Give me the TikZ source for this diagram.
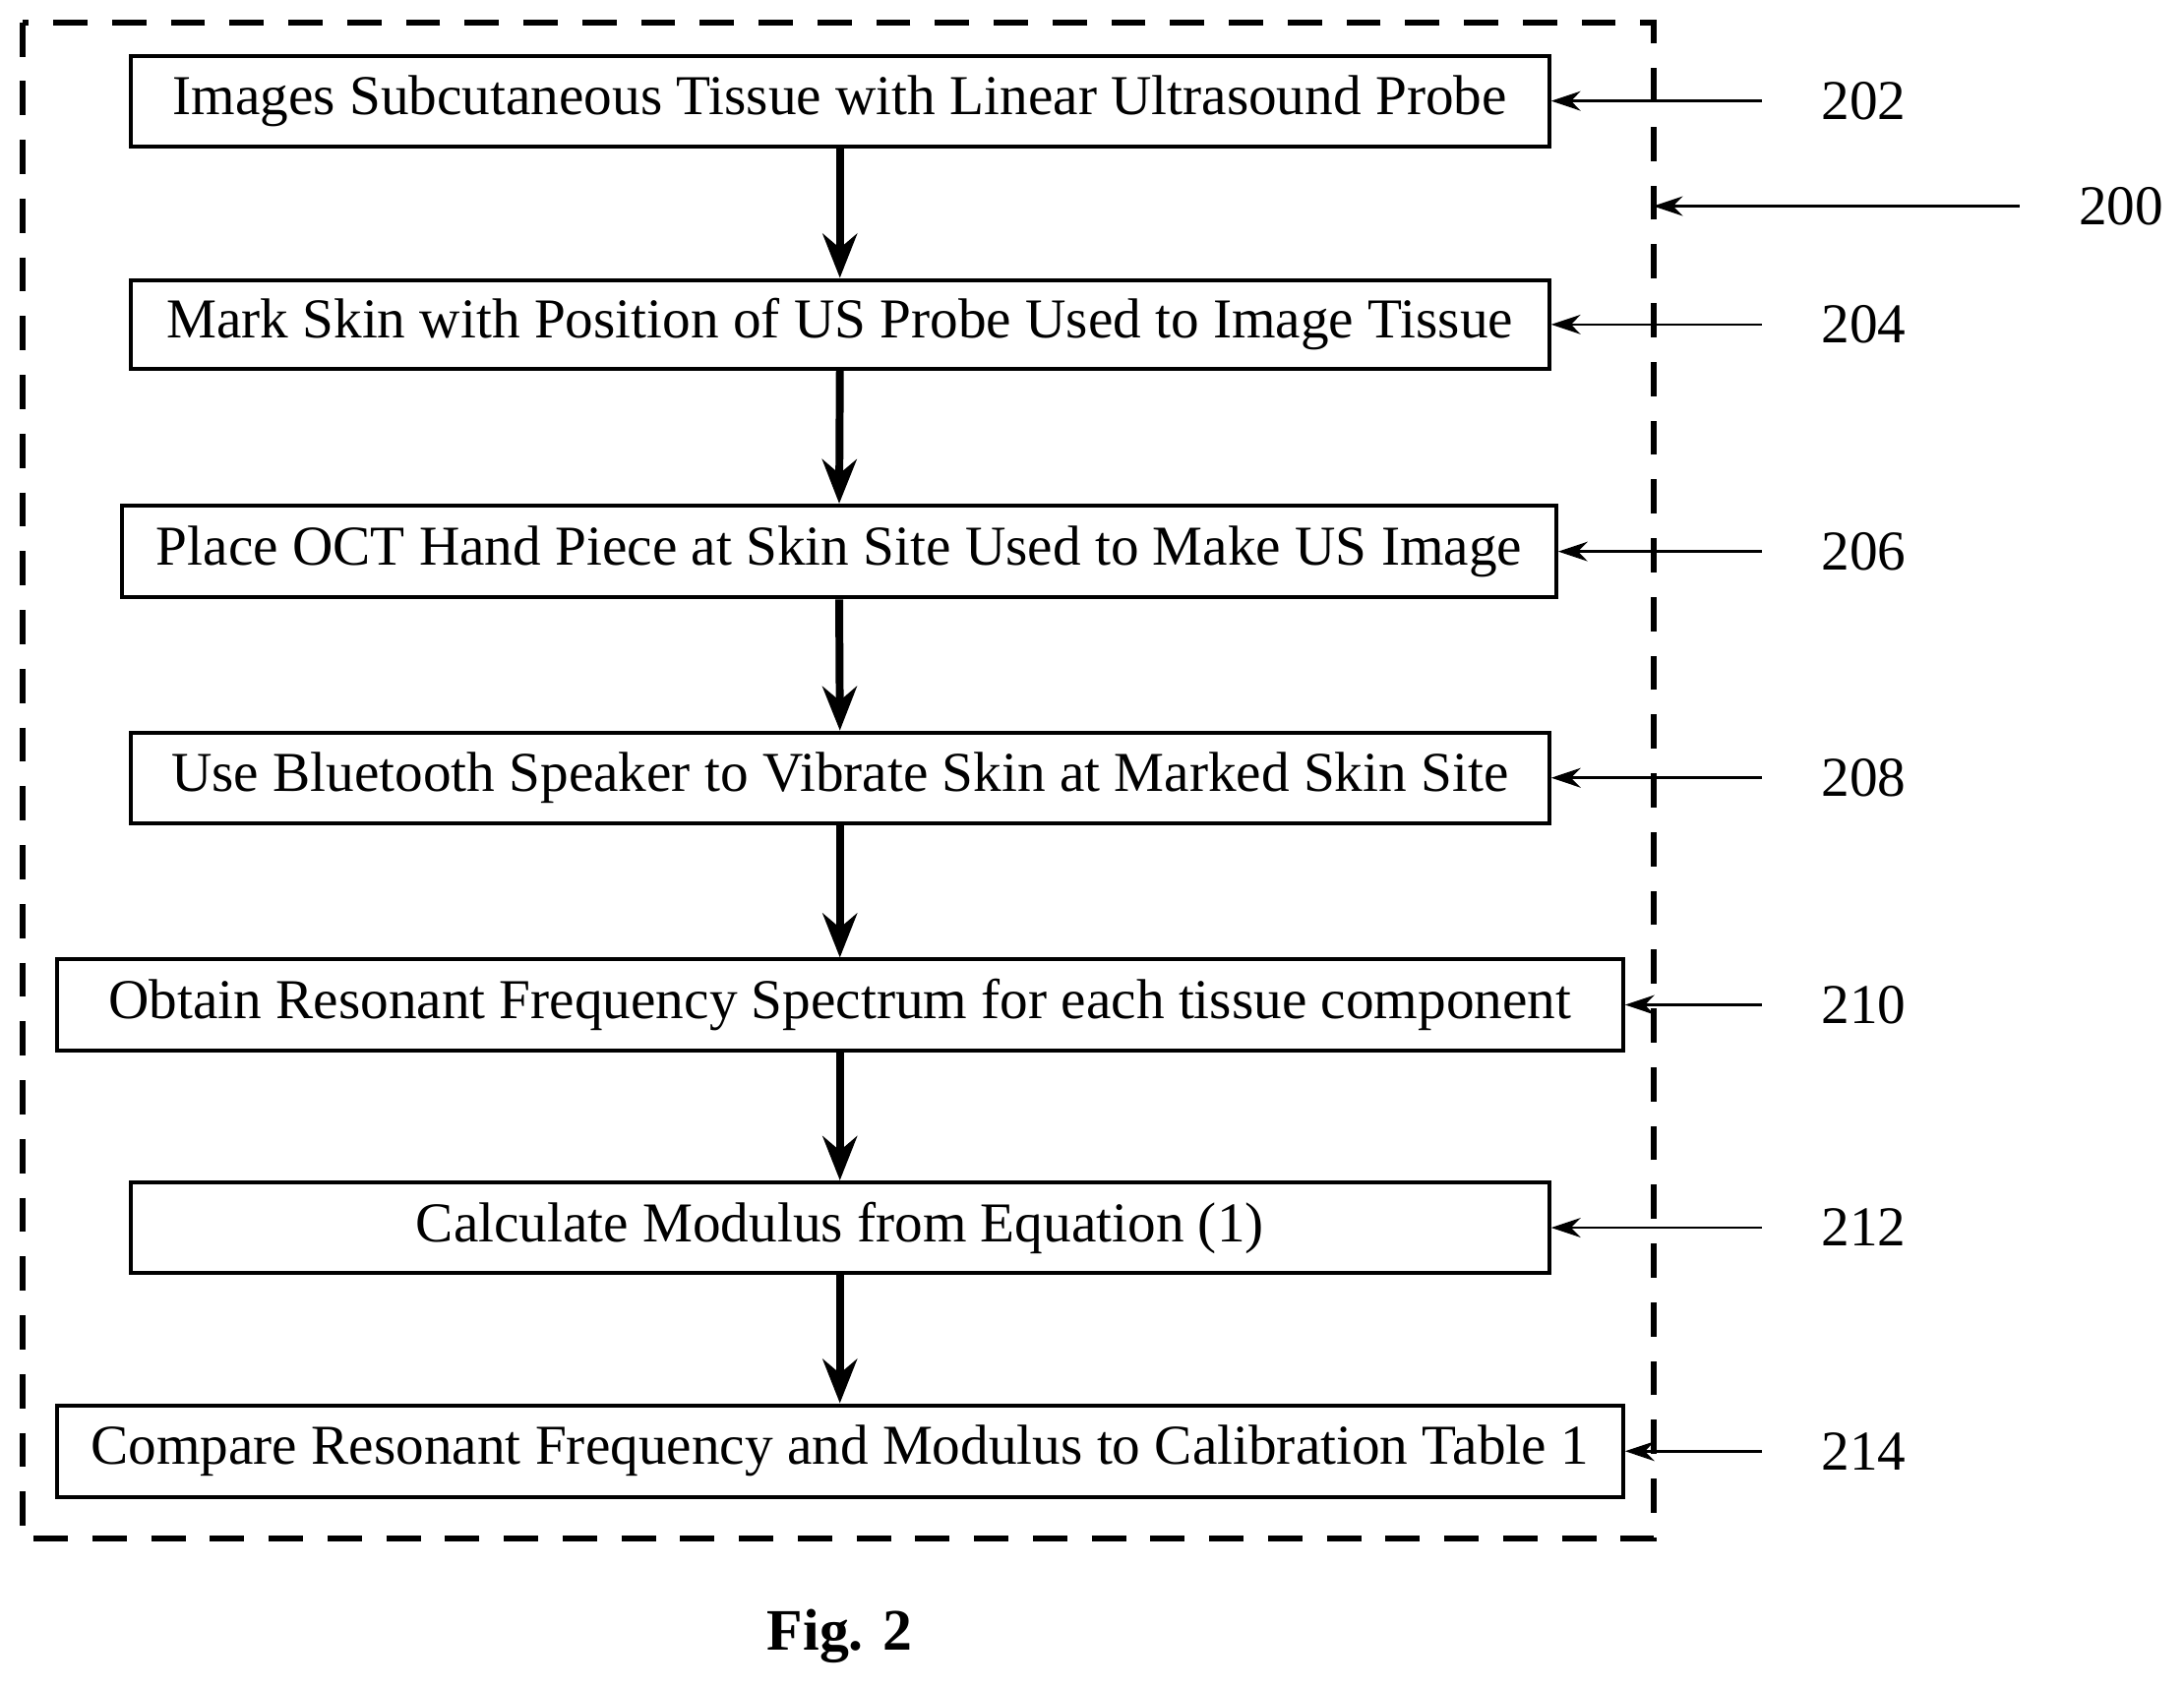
\documentclass[tikz,border=0pt]{standalone}
\usepackage{fontspec}
\setmainfont{Liberation Serif}
\usetikzlibrary{arrows.meta}
\begin{document}
\begin{tikzpicture}[x=0.01cm,y=-0.01cm,
  box/.style={draw,line width=0.8pt,inner sep=0pt,font=\fontsize{11.5}{13}\selectfont},
  flow/.style={line width=1.6pt,-{Stealth[length=9pt,width=7pt]}},
  lab/.style={line width=0.5pt,-{Stealth[length=6pt,width=4pt]}},
  num/.style={font=\fontsize{11.5}{13}\selectfont}]
\useasboundingbox (0,0) rectangle (1568,1212);
\draw[dashed,line width=1.2pt,dash pattern=on 7pt off 5pt] (16,16) rectangle (1187,1105);
\node[box,minimum width=10.18cm,minimum height=0.65cm] (b1) at (603,72.5) {Images Subcutaneous Tissue with Linear Ultrasound Probe};
\node[box,minimum width=10.18cm,minimum height=0.64cm] (b2) at (603,233) {Mark Skin with Position of US Probe Used to Image Tissue};
\node[box,minimum width=10.29cm,minimum height=0.66cm] (b3) at (602.5,396) {Place OCT Hand Piece at Skin Site Used to Make US Image};
\node[box,minimum width=10.18cm,minimum height=0.65cm] (b4) at (603,558.5) {Use Bluetooth Speaker to Vibrate Skin at Marked Skin Site};
\node[box,minimum width=11.24cm,minimum height=0.65cm] (b5) at (603,721.5) {Obtain Resonant Frequency Spectrum for each tissue component};
\node[box,minimum width=10.18cm,minimum height=0.65cm] (b6) at (603,881.5) {Calculate Modulus from Equation (1)};
\node[box,minimum width=11.24cm,minimum height=0.66cm] (b7) at (603,1042) {Compare Resonant Frequency and Modulus to Calibration Table 1};
\foreach \a/\b in {b1/b2,b2/b3,b3/b4,b4/b5,b5/b6,b6/b7} \draw[flow] (\a.south) -- (\b.north);
\coordinate (rx) at (1265,0);
\coordinate (nx) at (1338,0);
\foreach \b/\n in {b1/202,b2/204,b3/206,b4/208,b5/210,b6/212,b7/214}{
  \coordinate (c\n) at (\b.east -| rx);
  \draw[lab] (c\n) -- (\b.east);
  \node[num] (n\n) at (\b.east -| nx) {\n};
}
\coordinate (c200) at (1450,148);
\coordinate (d200) at (1187,148);
\draw[lab] (c200) -- (d200);
\node[num] (n200) at (1523,148) {200};
\node[font=\fontsize{12}{14}\selectfont\bfseries] (fig) at (603,1175) {Fig. 2};
\end{tikzpicture}
\end{document}
